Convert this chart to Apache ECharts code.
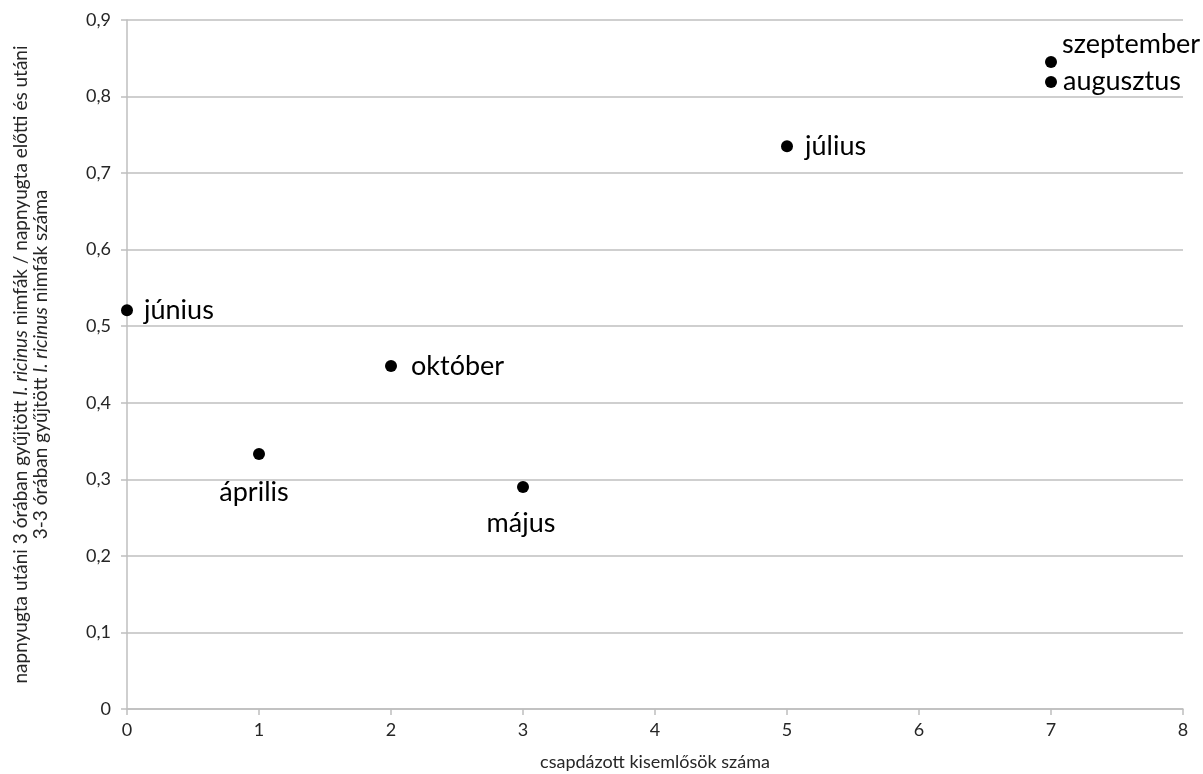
<!DOCTYPE html>
<html>
<head>
<meta charset="utf-8">
<script src="https://cdn.jsdelivr.net/npm/echarts@6/dist/echarts.min.js"></script>
<style>
  html, body { margin: 0; padding: 0; background: #fff; }
  #chart { width: 1203px; height: 774px; }
</style>
</head>
<body>
<div id="chart"></div>
<script>
// Months and their values
const months = ['június', 'október', 'április', 'május', 'július', 'augusztus', 'szeptember'];
const trappedHosts = [0, 2, 1, 3, 5, 7, 7];
const nymphRatio = [0.521, 0.448, 0.333, 0.290, 0.735, 0.819, 0.845];

// Where each month's label sits relative to its dot
const labelPlacement = {
  'június':     { position: 'right', distance: 11, offset: [0, 0] },
  'október':    { position: 'right', distance: 14, offset: [0, 0] },
  'április':    { position: 'inside', distance: 0, offset: [-5, 38] },
  'május':      { position: 'inside', distance: 0, offset: [-2, 36] },
  'július':     { position: 'right', distance: 12, offset: [0, 0] },
  'augusztus':  { position: 'right', distance: 6, offset: [0, -1] },
  'szeptember': { position: 'right', distance: 5, offset: [0, -18] }
};

const fmt = v => String(Math.round(v * 10) / 10).replace('.', ',');

const points = months.map((m, i) => {
  const p = labelPlacement[m];
  return {
    value: [trappedHosts[i], nymphRatio[i]],
    name: m,
    label: { position: p.position, distance: p.distance, offset: p.offset }
  };
});

const font = "Lato, 'Open Sans', sans-serif";

const chart = echarts.init(document.getElementById('chart'), null, { renderer: 'canvas' });
chart.setOption({
  animation: false,
  backgroundColor: '#ffffff',
  grid: { left: 127, right: 20, top: 20, bottom: 65, outerBoundsMode: 'none', containLabel: false },
  xAxis: {
    type: 'value',
    min: 0, max: 8, interval: 1,
    name: 'csapdázott kisemlősök száma',
    nameLocation: 'middle',
    nameGap: 44,
    nameTextStyle: { fontFamily: font, fontSize: 18, color: '#262626' },
    axisLine: { show: true, lineStyle: { color: '#bfbfbf', width: 1.5 } },
    axisTick: { show: true, length: 6, lineStyle: { color: '#bfbfbf', width: 1.5 } },
    axisLabel: { fontFamily: font, fontSize: 18, color: '#262626', margin: 12 },
    splitLine: { show: false }
  },
  yAxis: {
    type: 'value',
    min: 0, max: 0.9, interval: 0.1,
    name: '{a|napnyugta utáni 3 órában gyűjtött }{i|I. ricinus}{a| nimfák / napnyugta előtti és utáni}\n{a|3-3 órában gyűjtött }{i|I. ricinus}{a| nimfák száma}',
    nameLocation: 'middle',
    nameRotate: 90,
    nameGap: 76,
    nameTextStyle: {
      align: 'center',
      lineHeight: 20,
      rich: {
        a: { fontFamily: font, fontSize: 19, color: '#262626', lineHeight: 20 },
        i: { fontFamily: font, fontSize: 19, color: '#262626', fontStyle: 'italic', lineHeight: 20 }
      }
    },
    axisLine: { show: true, lineStyle: { color: '#bfbfbf', width: 1.5 } },
    axisTick: { show: true, length: 6, lineStyle: { color: '#bfbfbf', width: 1.5 } },
    axisLabel: { fontFamily: font, fontSize: 18, color: '#262626', margin: 16, formatter: fmt },
    splitLine: { show: true, lineStyle: { color: '#bfbfbf', width: 1.5 } }
  },
  series: [{
    type: 'scatter',
    symbol: 'circle',
    symbolSize: 12,
    itemStyle: { color: '#000000', opacity: 1 },
    label: {
      show: true,
      formatter: p => p.name,
      fontFamily: font,
      fontSize: 27,
      color: '#000000'
    },
    emphasis: { disabled: true },
    data: points
  }]
});
</script>
</body>
</html>
